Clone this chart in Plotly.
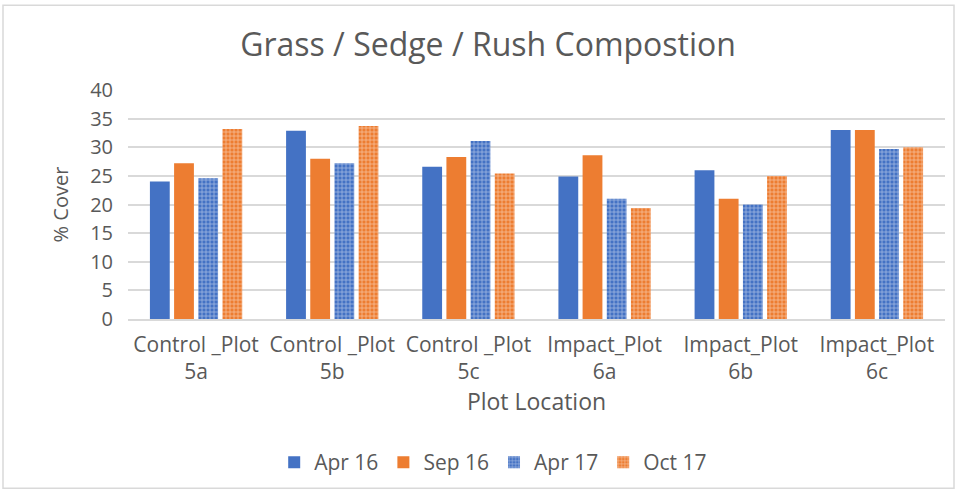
import plotly.graph_objects as go

categories = ["Control _Plot<br>5a", "Control _Plot<br>5b", "Control _Plot<br>5c",
              "Impact_Plot<br>6a", "Impact_Plot<br>6b", "Impact_Plot<br>6c"]
apr16 = [24.0, 32.9, 26.6, 24.9, 26.0, 33.0]
sep16 = [27.2, 28.0, 28.3, 28.6, 21.0, 33.0]
apr17 = [24.6, 27.2, 31.1, 21.0, 20.0, 29.7]
oct17 = [33.2, 33.7, 25.4, 19.4, 25.0, 30.0]

BLUE = "#4472c4"
ORANGE = "#ed7d31"
TXT = "#595959"
FONT = "Open Sans, Noto Sans, sans-serif"

fig = go.Figure()
fig.add_trace(go.Bar(x=categories, y=apr16, name="Apr 16",
                     marker=dict(color=BLUE, line=dict(width=0))))
fig.add_trace(go.Bar(x=categories, y=sep16, name="Sep 16",
                     marker=dict(color=ORANGE, line=dict(width=0))))
fig.add_trace(go.Bar(x=categories, y=apr17, name="Apr 17",
                     marker=dict(color=BLUE, line=dict(width=0),
                                 pattern=dict(shape="+", fgcolor="white", bgcolor=BLUE,
                                              size=4, solidity=0.35))))
fig.add_trace(go.Bar(x=categories, y=oct17, name="Oct 17",
                     marker=dict(color=ORANGE, line=dict(width=0),
                                 pattern=dict(shape="+", fgcolor="white", bgcolor=ORANGE,
                                              size=4, solidity=0.35))))

# chart frame (paper coords relative to plot area)
def px_x(p):
    return (p - 128) / 817.0

def px_y(p):
    return (320 - p) / 230.0

fig.add_shape(type="rect", xref="paper", yref="paper",
              x0=px_x(3), x1=px_x(954), y0=px_y(490), y1=px_y(5),
              line=dict(color="#d9d9d9", width=1.5), layer="below")

fig.update_layout(
    width=957, height=493,
    paper_bgcolor="white", plot_bgcolor="white",
    margin=dict(l=128, r=12, t=90, b=173),
    font=dict(family=FONT, color=TXT, size=21),
    title=dict(text="Grass / Sedge / Rush Compostion", x=0.51, xanchor="center",
               y=0.91, yanchor="middle", font=dict(size=32, color=TXT)),
    barmode="group", bargap=0.29, bargroupgap=0.18,
    xaxis=dict(title=dict(text="Plot Location", font=dict(size=23), standoff=9),
               tickfont=dict(size=21), showline=True, linecolor="#d9d9d9",
               linewidth=1.5, ticks="", ticklabelstandoff=6),
    yaxis=dict(title=dict(text="% Cover", font=dict(size=20), standoff=16),
               range=[0, 40], dtick=5, gridcolor="#d9d9d9", gridwidth=1.5,
               zeroline=False, tickfont=dict(size=20), ticks="",
               ticklabelstandoff=14),
    legend=dict(orientation="h", x=0.447, xanchor="center", y=-0.62, yanchor="middle",
                font=dict(size=21), itemwidth=30, traceorder="normal"),
)

fig.write_html("out.html", config={"displayModeBar": False},
               post_script="document.body.style.margin='0px';")
